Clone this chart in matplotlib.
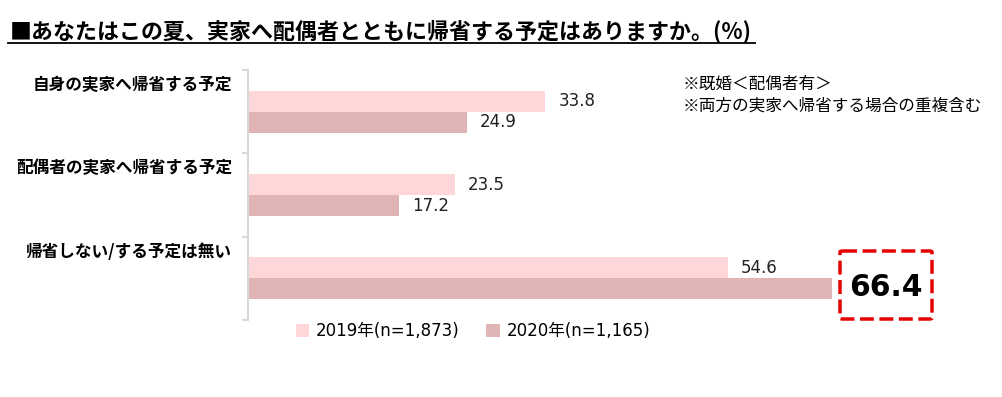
import matplotlib
matplotlib.use('Agg')
import matplotlib.pyplot as plt
import matplotlib.transforms as mtransforms
from matplotlib.patches import Patch, FancyBboxPatch
from matplotlib.lines import Line2D

plt.rcParams['font.family'] = ['Noto Sans CJK JP', 'DejaVu Sans']
num_font = ['DejaVu Sans', 'Noto Sans CJK JP']

title = '■あなたはこの夏、実家へ配偶者とともに帰省する予定はありますか。(%)'
categories = ['自身の実家へ帰省する予定', '配偶者の実家へ帰省する予定', '帰省しない/する予定は無い']
series_names = ['2019年(n=1,873)', '2020年(n=1,165)']
values_2019 = [33.8, 23.5, 54.6]
values_2020 = [24.9, 17.2, 66.4]
note_lines = ['※既婚＜配偶者有＞', '※両方の実家へ帰省する場合の重複含む']

col_2019 = '#FFD7D9'
col_2020 = '#E0B3B4'

fig = plt.figure(figsize=(10.02, 3.97), dpi=100)
W, H = 1002, 397
px_per_unit = (832 - 248) / 66.4
xmax = 80
ax = fig.add_axes([248 / W, 1 - 320 / H, xmax * px_per_unit / W, 250 / H])
px_per_cat = 250 / 3

ypos = list(range(len(categories)))
h = 0.252
ax.barh([y - h / 2 for y in ypos], values_2019, height=h, color=col_2019)
ax.barh([y + h / 2 for y in ypos], values_2020, height=h, color=col_2020)

ax.set_xlim(0, xmax)
ax.set_ylim(len(categories) - 0.5, -0.5)

for s in ['top', 'right', 'bottom']:
    ax.spines[s].set_visible(False)
ax.spines['left'].set_color('#D9D9D9')
ax.spines['left'].set_linewidth(1.5)
ax.set_xticks([])
ax.set_yticks([y - 0.5 for y in ypos] + [len(categories) - 0.5])
ax.set_yticklabels([])
ax.tick_params(axis='y', direction='out', length=4, width=1.5, color='#D9D9D9')

# value labels
off = 13 / px_per_unit
for y, v in zip(ypos, values_2019):
    ax.text(v + off, y - h / 2, f'{v:.1f}', va='center', ha='left', fontsize=12,
            color='#222222', family=num_font)
for y, v in zip(ypos[:-1], values_2020[:-1]):
    ax.text(v + off, y + h / 2, f'{v:.1f}', va='center', ha='left', fontsize=12,
            color='#222222', family=num_font)

# highlighted last value with red dashed frame
v = values_2020[-1]
yc = ypos[-1] + 0.08
box_w, box_h = 92 / px_per_unit, 68 / px_per_cat
x0 = v + 8 / px_per_unit
ax.add_patch(FancyBboxPatch((x0, yc - box_h / 2), box_w, box_h,
                            boxstyle='round,pad=0,rounding_size=0.35',
                            facecolor='white', edgecolor='#E60000', linewidth=2.5,
                            linestyle=(0, (4, 1.6)), clip_on=False, mutation_aspect=0.03))
ax.text(x0 + box_w / 2, yc + 0.03, f'{v:.1f}', va='center', ha='center',
        fontsize=21.5, fontweight='bold', color='black', family=num_font)

# category labels above each band
trans = mtransforms.blended_transform_factory(fig.transFigure, ax.transData)
for y, c in zip(ypos, categories):
    ax.text(232 / W, y - 0.32, c, transform=trans, ha='right', va='center',
            fontsize=12, fontweight='bold', color='black')

# note
fig.text(683 / W, 1 - 84 / H, note_lines[0], ha='left', va='center', fontsize=12)
fig.text(683 / W, 1 - 106 / H, note_lines[1], ha='left', va='center', fontsize=12)

# title with underline
fig.text(10 / W, 1 - 32 / H, title, ha='left', va='center', fontsize=15.8, fontweight='bold')
fig.add_artist(Line2D([8 / W, 755 / W], [1 - 43 / H, 1 - 43 / H], color='black', lw=1.3,
                      transform=fig.transFigure))

handles = [Patch(facecolor=col_2019), Patch(facecolor=col_2020)]
fig.legend(handles, series_names, loc='center', bbox_to_anchor=(473 / W, 1 - 331 / H),
           ncol=2, frameon=False, prop={'family': num_font, 'size': 12},
           handlelength=0.8, handleheight=0.8, handletextpad=0.4, columnspacing=1.6)

fig.savefig('out.png', dpi=100)
